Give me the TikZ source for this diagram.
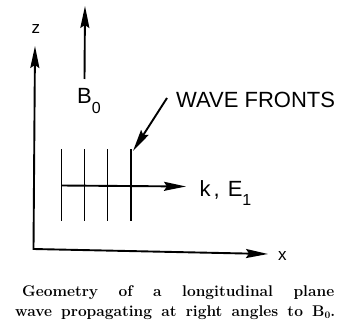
\documentclass[tikz,border=0pt]{standalone}
\usepackage{fontspec}
\newfontfamily\lblfont{Liberation Sans}
\newfontfamily\capfont{Latin Modern Roman}
\usetikzlibrary{arrows.meta}
\begin{document}
\begin{tikzpicture}[x=1pt,y=-1pt,
  line/.style={line width=1.9pt},
  arr/.style={line width=1.9pt,-{Stealth[length=22pt,width=9pt,inset=3pt]}},
  dblarr/.style={line width=1.9pt,line join=miter,{Stealth[length=22pt,width=9pt,inset=3pt]}-{Stealth[length=22pt,width=9pt,inset=3pt]}},
  lbl/.style={font=\lblfont\fontsize{22}{24}\selectfont, inner sep=0pt, anchor=base west},
  axl/.style={font=\lblfont\fontsize{17}{20}\selectfont, inner sep=0pt, anchor=base west},
  captext/.style={font=\capfont\bfseries\fontsize{15.5}{19}\selectfont, inner sep=0pt, anchor=base west}]
\useasboundingbox (0,0) rectangle (352,323);
% axes
\coordinate (O) at (33.5,249);
\coordinate (Z) at (35,46);
\coordinate (X) at (268,254);
\draw[dblarr] (Z) -- (O) -- (X);
\node[axl] (zl) at (31.5,34) {z};
\node[axl] (xl) at (278,260) {x};
% B0
\coordinate (B1) at (84.5,79);
\coordinate (B2) at (85,6);
\draw[arr] (B1) -- (B2);
\node[lbl] (bl) at (77,103) {B\raisebox{-10pt}{\fontsize{16}{18}\selectfont 0}};
% wave fronts
\foreach \i/\x in {1/61.5,2/84.5,3/107.5,4/131}{
  \coordinate (t\i) at (\x,149);
  \coordinate (b\i) at (\x,221);
  \draw[line] (t\i) -- (b\i);
}
\coordinate (K0) at (61.5,185.5);
\coordinate (K1) at (186,186.5);
\draw[arr] (K0) -- (K1);
\node[lbl] (kl) at (199.5,196) {k\hspace{3pt},\hspace{8pt}E\raisebox{-9pt}{\fontsize{16}{18}\selectfont 1}};
\node[lbl] (wf) at (176,107) {WAVE FRONTS};
\coordinate (W0) at (167,98);
\coordinate (W1) at (133,151);
\draw[arr] (W0) -- (W1);
% caption
\node[captext] (c1) at (22,296.5) {\makebox[312pt][s]{Geometry of a longitudinal plane}};
\node[captext] (c2) at (15,316.5) {\makebox[320pt][s]{wave propagating at right angles to B\raisebox{-2pt}{\fontsize{10}{12}\selectfont 0}.}};
\end{tikzpicture}
\end{document}
